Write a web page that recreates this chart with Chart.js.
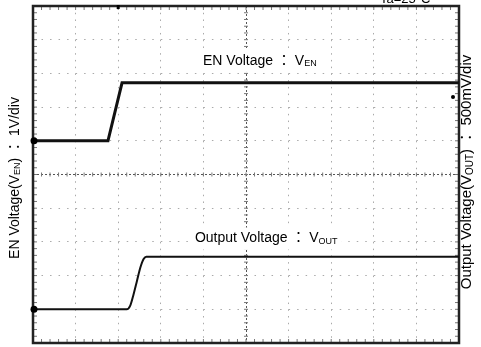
<!DOCTYPE html>
<html>
<head>
<meta charset="utf-8">
<script src="https://cdn.jsdelivr.net/npm/chart.js@4/dist/chart.umd.min.js"></script>
<style>
  html, body { margin: 0; padding: 0; background: #fff; }
  #wrap { width: 481px; height: 347px; }
</style>
</head>
<body>
<div id="wrap"><canvas id="scope" width="481" height="347"></canvas></div>
<script>
// horizontal position in screen divisions (10 div across)
const enTime = [0, 1.76, 2.09, 10];
const enVolt = [0, 0, 1.72, 1.72];          // V, 1V/div

const outTime = [0, 2.20, 2.28, 2.36, 2.44, 2.52, 2.60, 2.66, 10];
const outVolt = [0, 0, 0.05, 0.22, 0.42, 0.62, 0.75, 0.78, 0.78];   // V, 500mV/div

const FONT = '"Liberation Sans", Arial, "Noto Sans CJK JP", sans-serif';

function toPoints(xs, ys) {
  return xs.map((x, i) => ({ x: x, y: ys[i] }));
}

// draw a string with a subscript part, returns the x after drawing
function drawParts(ctx, parts, x, y, size) {
  parts.forEach(p => {
    if (p.sub) {
      ctx.font = Math.round(size * 0.65) + 'px ' + FONT;
      ctx.fillText(p.t, x, y + 3);
    } else {
      ctx.font = size + 'px ' + FONT;
      ctx.fillText(p.t, x, y);
    }
    x += ctx.measureText(p.t).width;
  });
  return x;
}

function partsWidth(ctx, parts, size) {
  let w = 0;
  parts.forEach(p => {
    ctx.font = (p.sub ? Math.round(size * 0.65) : size) + 'px ' + FONT;
    w += ctx.measureText(p.t).width;
  });
  return w;
}

const scopeDecor = {
  id: 'scopeDecor',
  beforeDatasetsDraw(chart) {
    const { ctx, chartArea: a } = chart;
    const dx = (a.right - a.left) / 10, dy = (a.bottom - a.top) / 10;
    const cx = (a.left + a.right) / 2, cy = (a.top + a.bottom) / 2;
    ctx.save();
    ctx.strokeStyle = '#777';
    ctx.lineWidth = 1;
    ctx.beginPath();
    // minor ticks on centre lines and frame
    for (let i = 1; i < 50; i++) {
      const x = a.left + i * dx / 5;
      ctx.moveTo(x, cy - 2); ctx.lineTo(x, cy + 2);
      ctx.moveTo(x, a.top); ctx.lineTo(x, a.top + 4);
      ctx.moveTo(x, a.bottom); ctx.lineTo(x, a.bottom - 4);
      const y = a.top + i * dy / 5;
      ctx.moveTo(cx - 2, y); ctx.lineTo(cx + 2, y);
      ctx.moveTo(a.left, y); ctx.lineTo(a.left + 4, y);
      ctx.moveTo(a.right, y); ctx.lineTo(a.right - 4, y);
    }
    ctx.stroke();
    // frame
    ctx.strokeStyle = '#222';
    ctx.lineWidth = 2.5;
    ctx.strokeRect(a.left, a.top, a.right - a.left, a.bottom - a.top);
    ctx.restore();
  },
  afterDatasetsDraw(chart) {
    const { ctx, chartArea: a, scales } = chart;
    ctx.save();
    ctx.fillStyle = '#000';
    ctx.textBaseline = 'middle';

    // trace labels with white boxes
    const labels = [
      { parts: [{ t: 'EN Voltage ： V' }, { t: 'EN', sub: true }], x: 3.99, y: scales.yEN.getPixelForValue(2.37) },
      { parts: [{ t: 'Output Voltage ： V' }, { t: 'OUT', sub: true }], x: 3.8, y: scales.yOUT.getPixelForValue(1.05) }
    ];
    labels.forEach(l => {
      const px = scales.x.getPixelForValue(l.x);
      const w = partsWidth(ctx, l.parts, 14);
      ctx.fillStyle = '#fff';
      ctx.fillRect(px - 4, l.y - 11, w + 8, 22);
      ctx.fillStyle = '#000';
      drawParts(ctx, l.parts, px, l.y, 14);
    });

    // channel ground markers on the left edge
    [scales.yEN.getPixelForValue(0), scales.yOUT.getPixelForValue(0)].forEach(y => {
      ctx.beginPath();
      ctx.arc(a.left + 1, y, 3.5, 0, Math.PI * 2);
      ctx.fill();
    });
    // trigger level marker and trigger position
    ctx.beginPath();
    ctx.arc(a.right - 6, scales.yEN.getPixelForValue(1.3), 2, 0, Math.PI * 2);
    ctx.fill();
    const tx = scales.x.getPixelForValue(2);
    ctx.fillRect(tx - 1.5, a.top - 1, 3, 4);

    // axis titles
    const left = [{ t: 'EN Voltage(V' }, { t: 'EN', sub: true }, { t: ') ： 1V/div' }];
    const right = [{ t: 'Output Voltage(V' }, { t: 'OUT', sub: true }, { t: ') ： 500mV/div' }];
    [[left, 15, 178, 14], [right, 467, 172, 15]].forEach(([parts, x, y, size]) => {
      const w = partsWidth(ctx, parts, size);
      ctx.save();
      ctx.translate(x, y);
      ctx.rotate(-Math.PI / 2);
      drawParts(ctx, parts, -w / 2, 0, size);
      ctx.restore();
    });

    // ambient temperature, top right
    ctx.font = '13px ' + FONT;
    ctx.textBaseline = 'alphabetic';
    ctx.fillText('Ta=25°C', 380, 3);
    ctx.restore();
  }
};

new Chart(document.getElementById('scope'), {
  type: 'line',
  data: {
    datasets: [
      {
        label: 'EN',
        data: toPoints(enTime, enVolt),
        yAxisID: 'yEN',
        borderColor: '#111',
        borderWidth: 3,
        pointRadius: 0,
        tension: 0
      },
      {
        label: 'VOUT',
        data: toPoints(outTime, outVolt),
        yAxisID: 'yOUT',
        borderColor: '#111',
        borderWidth: 2,
        pointRadius: 0,
        cubicInterpolationMode: 'monotone'
      }
    ]
  },
  options: {
    responsive: false,
    animation: false,
    devicePixelRatio: 1,
    layout: { padding: { left: 33, right: 22, top: 6, bottom: 4 } },
    plugins: { legend: { display: false }, tooltip: { enabled: false } },
    scales: {
      x: {
        type: 'linear',
        min: 0, max: 10,
        ticks: { display: false, stepSize: 1 },
        grid: {
          drawTicks: false,
          color: ctx => ctx.tick && ctx.tick.value === 5 ? '#555' : '#aaa',
          lineWidth: 1
        },
        border: { display: false, dash: ctx => ctx.tick && ctx.tick.value === 5 ? [2, 2] : [1.5, 5.24] }
      },
      yEN: {
        position: 'left',
        min: -6, max: 4,
        ticks: { display: false, stepSize: 1 },
        grid: {
          drawTicks: false,
          color: ctx => ctx.tick && ctx.tick.value === -1 ? '#555' : '#aaa',
          lineWidth: 1
        },
        border: { display: false, dash: ctx => ctx.tick && ctx.tick.value === -1 ? [2, 2] : [1.5, 7.02] }
      },
      yOUT: {
        position: 'right',
        display: false,
        min: -0.5, max: 4.5
      }
    }
  },
  plugins: [scopeDecor]
});
</script>
</body>
</html>
